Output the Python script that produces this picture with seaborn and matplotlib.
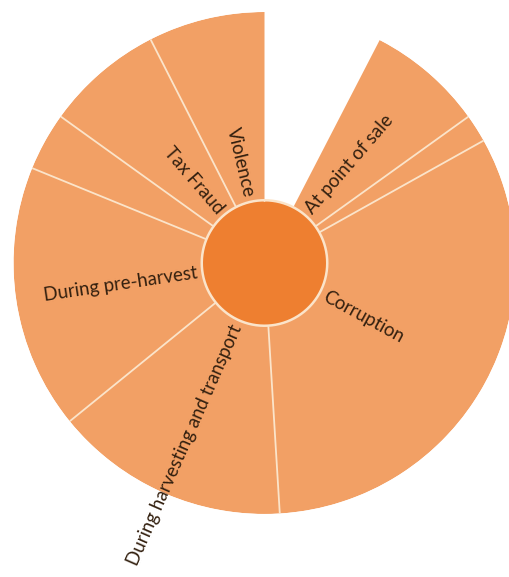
import numpy as np
import matplotlib
matplotlib.use("Agg")
import matplotlib.pyplot as plt
import seaborn as sns

# ---- data (share of the full circle, in percent) ----
categories = ["At point of sale", "", "Corruption", "During harvesting and transport",
              "During pre-harvest", "", "Tax Fraud", "Violence"]
values = [7.5, 1.8, 32.14, 15.11, 17.03, 3.75, 7.58, 7.5]
gap_share = 7.59  # empty part of the ring (not drawn)

# ---- style ----
sns.set_theme(style="white")
plt.rcParams["font.family"] = ["Lato", "DejaVu Sans"]

wedge_color = "#F2A065"
center_color = "#EE7F30"
sep_color = "#FBE4CA"
text_color = "#33200F"

total = sum(values) + gap_share
widths = np.array(values) / total * 2 * np.pi
starts = gap_share / total * 2 * np.pi + np.concatenate([[0], np.cumsum(widths)[:-1]])
mids = starts + widths / 2

R_OUT = 1.0
R_IN = 0.25

fig = plt.figure(figsize=(5.09, 5.77), dpi=100)
W, H = 509, 577
cx, cy, rpx = 264.5, 577 - 263, 251
ax = fig.add_axes([(cx - rpx) / W, (cy - rpx) / H, 2 * rpx / W, 2 * rpx / H], projection="polar")
ax.set_theta_zero_location("N")
ax.set_theta_direction(-1)
ax.set_ylim(0, R_OUT)
ax.set_axis_off()

# wedges
ax.bar(starts, R_OUT, width=widths, align="edge", color=wedge_color, linewidth=0)

# separators between neighbouring wedges
for th in starts[1:]:
    ax.plot([th, th], [R_IN, R_OUT], color=sep_color, lw=1.3, solid_capstyle="butt")

# center circle
circ_t = np.linspace(0, 2 * np.pi, 400)
ax.fill_between(circ_t, 0, R_IN, color=center_color, lw=0, zorder=3)
ax.plot(circ_t, np.full_like(circ_t, R_IN), color=sep_color, lw=1.8, zorder=4)

# labels
r_lab = 0.27
for name, th in zip(categories, mids):
    if not name:
        continue
    deg = np.degrees(th)
    rot = 90 - deg
    if 180 < deg < 360:
        rot += 180
        ha = "right"
    else:
        ha = "left"
    ax.text(th, r_lab, name, rotation=rot, rotation_mode="anchor", ha=ha, va="center",
            fontsize=13.4, color=text_color, clip_on=False, zorder=5)

fig.savefig("out.png", dpi=100, facecolor="white")
